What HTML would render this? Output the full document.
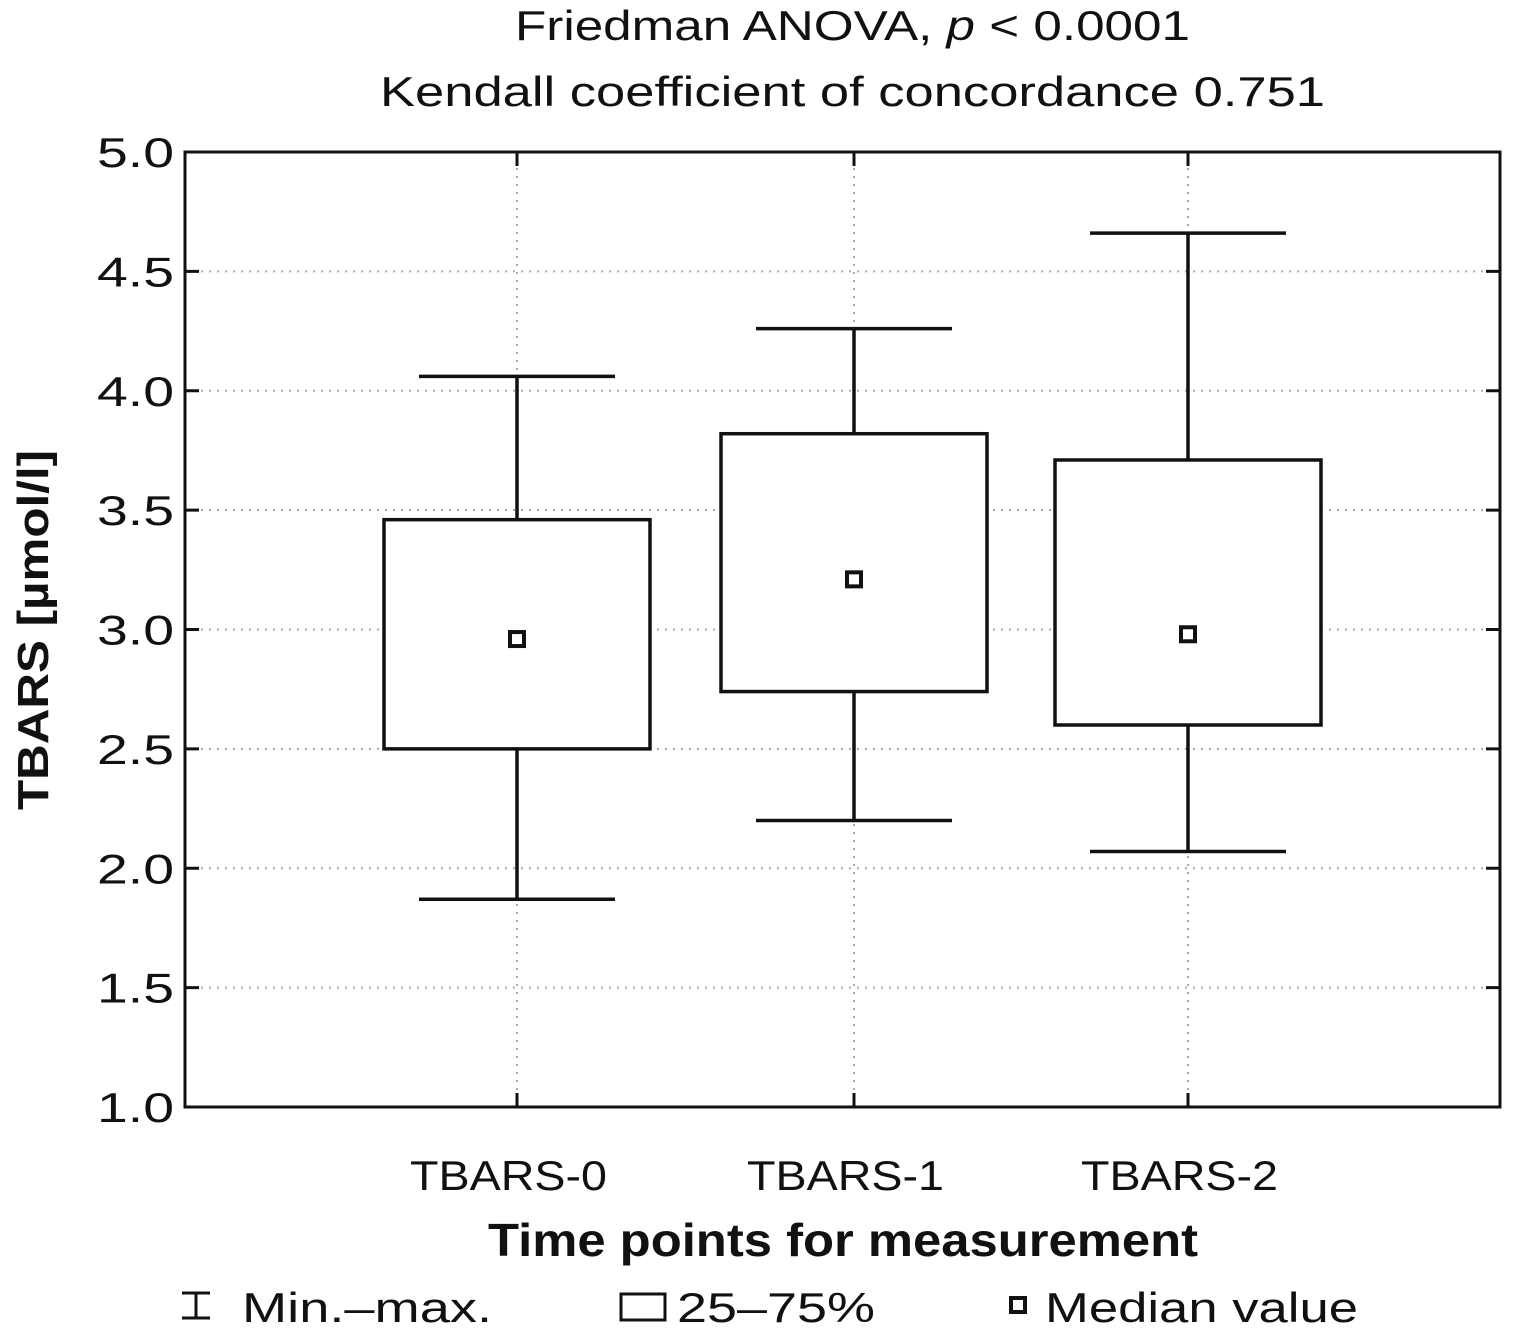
<!DOCTYPE html>
<html><head><meta charset="utf-8"><style>
html,body{margin:0;padding:0;background:#fff;}
svg text{font-family:"Liberation Sans",sans-serif;fill:#111;}
</style></head><body>
<svg id="chart" width="1523" height="1325" viewBox="0 0 1523 1325" xmlns="http://www.w3.org/2000/svg">
<text x="515" y="40" font-size="42" textLength="675" lengthAdjust="spacingAndGlyphs">Friedman ANOVA, <tspan font-style="italic">p</tspan> &lt; 0.0001</text>
<text x="380" y="106" font-size="42" textLength="945" lengthAdjust="spacingAndGlyphs">Kendall coefficient of concordance 0.751</text>
<g id="grid"></g>
<g id="marks"></g>
<rect x="185" y="152" width="1315" height="955" fill="none" stroke="#111" stroke-width="3"/>
<g id="axes"></g>
<text transform="translate(48,810) rotate(-90)" font-size="44" font-weight="bold" textLength="360" lengthAdjust="spacingAndGlyphs">TBARS [µmol/l]</text>
<text x="488" y="1256" font-size="46" font-weight="bold" textLength="710" lengthAdjust="spacingAndGlyphs">Time points for measurement</text>
<g>
 <g>
  <path d="M182 1293 H210 M182 1318 H210 M196 1293 V1318" stroke="#111" stroke-width="3" fill="none"/>
  <text x="242" y="1322" font-size="42" textLength="250" lengthAdjust="spacingAndGlyphs">Min.–max.</text>
 </g>
 <g>
  <rect x="621" y="1294" width="44" height="26" fill="none" stroke="#111" stroke-width="3"/>
  <text x="677" y="1322" font-size="42" textLength="198" lengthAdjust="spacingAndGlyphs">25–75%</text>
 </g>
 <g>
  <rect x="1011" y="1298" width="14" height="14" fill="none" stroke="#111" stroke-width="4"/>
  <text x="1045" y="1322" font-size="42" textLength="313" lengthAdjust="spacingAndGlyphs">Median value</text>
 </g>
</g>
</svg>
<script>
const categories = ["TBARS-0","TBARS-1","TBARS-2"];
const mins = [1.87, 2.20, 2.07];
const q1s = [2.50, 2.74, 2.60];
const medians = [2.96, 3.21, 2.98];
const q3s = [3.46, 3.82, 3.71];
const maxs = [4.06, 4.26, 4.66];
const yTicks = ["1.0","1.5","2.0","2.5","3.0","3.5","4.0","4.5","5.0"];

const NS = "http://www.w3.org/2000/svg";
const L=185,R=1500,T=152,B=1107,yMin=1,yMax=5;
const y = v => B - (v - yMin) / (yMax - yMin) * (B - T);
const xCenters = [517, 854, 1188];
const x = i => xCenters[i];
function mk(tag, attrs, parent){const e=document.createElementNS(NS,tag);for(const k in attrs)e.setAttribute(k,attrs[k]);parent.appendChild(e);return e;}
const grid=document.getElementById('grid'), marks=document.getElementById('marks'), axes=document.getElementById('axes');
yTicks.forEach(t=>{
  const v=parseFloat(t), yy=y(v);
  if(v>yMin && v<yMax){
    const g=mk('line',{x1:L,x2:R,y1:yy,y2:yy,stroke:'#aaa','stroke-width':2,'stroke-dasharray':'2 6'},grid);
    
    
  }
  const tk=mk('path',{d:`M${L} ${yy} H${L+14} M${R} ${yy} H${R-14}`,stroke:'#111','stroke-width':3},axes);
  
  
  const lb=mk('text',{x:97,y:yy+15,'font-size':42,textLength:77,lengthAdjust:'spacingAndGlyphs'},axes);
  lb.textContent=t;
  
  
});
categories.forEach((c,i)=>{
  const cx=x(i);
  const g=mk('line',{x1:cx,x2:cx,y1:T,y2:B,stroke:'#aaa','stroke-width':2,'stroke-dasharray':'2 6'},grid);
  
  
  const tk=mk('path',{d:`M${cx} ${B} V${B-14} M${cx} ${T} V${T+14}`,stroke:'#111','stroke-width':3},axes);
  
  
  const lb=mk('text',{x:cx-107,y:1190,'font-size':42,textLength:197,lengthAdjust:'spacingAndGlyphs'},axes);
  lb.textContent=c;
  
  
  const hw=133, cw=98;
  const wh=mk('path',{d:`M${cx} ${y(maxs[i])} V${y(q3s[i])} M${cx} ${y(q1s[i])} V${y(mins[i])} M${cx-cw} ${y(maxs[i])} H${cx+cw} M${cx-cw} ${y(mins[i])} H${cx+cw}`,stroke:'#111','stroke-width':3.5,fill:'none'},marks);
  
  
  const bx=mk('rect',{x:cx-hw,y:y(q3s[i]),width:2*hw,height:y(q1s[i])-y(q3s[i]),fill:'#fff',stroke:'#111','stroke-width':3.5},marks);
  
  
  const md=mk('rect',{x:cx-7,y:y(medians[i])-7,width:14,height:14,fill:'#fff',stroke:'#111','stroke-width':4},marks);
  
  
});
</script>
</body></html>
